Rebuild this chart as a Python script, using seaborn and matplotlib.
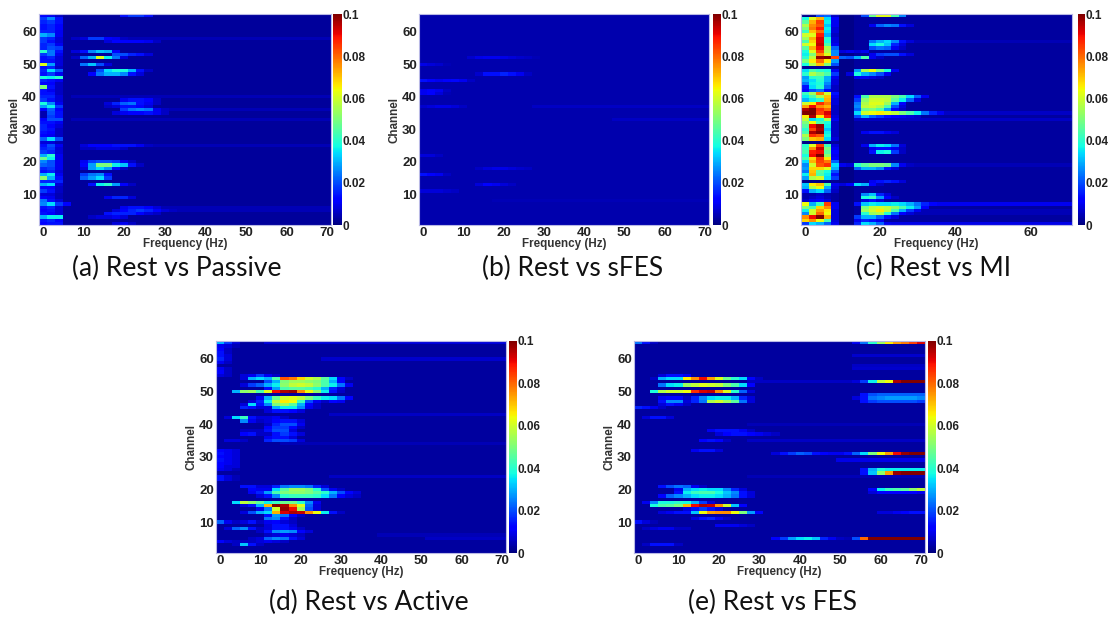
import numpy as np
import pandas as pd
import matplotlib.pyplot as plt
import seaborn as sns

plt.rcParams['font.family'] = ['Liberation Sans', 'DejaVu Sans']

# frequency bins are 2 Hz wide, values below are in units of 0.001
freqs = list(range(0, 72, 2))
channels = list(range(65, 0, -1))
cbar_ticks = [0, 0.02, 0.04, 0.06, 0.08, 0.1]
cbar_labels = ['0', '0.02', '0.04', '0.06', '0.08', '0.1']
ticks_full = [0, 10, 20, 30, 40, 50, 60, 70]
ticks_c = [0, 20, 40, 60]

# each entry: (channel, first frequency bin, values)
cells_a = [
    (65, 0, [12, 10, 6]), (64, 0, [18, 26, 14]), (63, 0, [16, 18, 14]), (62, 0, [14, 16, 12]),
    (61, 0, [14, 16, 12]), (60, 0, [16, 16, 10]), (59, 0, [30, 26, 10]), (58, 0, [18, 16, 8]),
    (57, 0, [18, 14, 8]), (56, 0, [16, 18, 10]), (55, 0, [16, 20, 18]), (54, 0, [40, 24, 14]),
    (53, 0, [18, 24, 10]), (52, 0, [14, 16, 8]), (51, 0, [14, 14, 8]), (50, 0, [62, 28, 8]),
    (49, 0, [14, 16, 6]), (48, 0, [16, 34, 22]), (47, 0, [14, 18, 10]), (46, 0, [38, 36, 40]),
    (45, 0, [16, 14, 10]), (44, 0, [12, 12, 6]), (43, 0, [50, 14, 6]), (42, 0, [14, 10, 6]),
    (41, 0, [14, 14, 6]), (40, 0, [16, 16, 8]), (39, 0, [18, 14, 8]), (38, 0, [38, 26, 10]),
    (37, 0, [28, 36, 18]), (36, 0, [12, 22, 12]), (35, 0, [4, 20, 14]), (34, 0, [4, 18, 14]),
    (33, 0, [12, 20, 20]), (32, 0, [14, 14, 10]), (31, 0, [16, 12, 8]), (30, 0, [16, 14, 6]),
    (29, 0, [14, 12, 6]), (28, 0, [12, 10, 6]), (27, 0, [22, 34, 20]), (26, 0, [8, 8, 5]),
    (25, 0, [14, 20, 10]), (24, 0, [16, 18, 8]), (23, 0, [18, 16, 8]), (22, 0, [30, 40, 10]),
    (21, 0, [48, 36, 10]), (20, 0, [26, 20, 10]), (19, 0, [22, 20, 10]), (18, 0, [16, 18, 10]),
    (17, 0, [14, 16, 8]), (16, 0, [30, 36, 10]), (15, 0, [52, 30, 14]), (14, 0, [16, 16, 16]),
    (13, 0, [30, 34, 8]), (12, 0, [12, 12, 6]), (11, 0, [18, 14, 6]), (10, 0, [8, 8, 5]),
    (9, 0, [12, 10, 5]), (8, 0, [24, 14, 8]), (7, 0, [26, 34, 18, 12]), (6, 0, [14, 16, 8]),
    (5, 0, [12, 14, 8]), (4, 0, [14, 12, 8]), (3, 0, [30, 36, 36]), (2, 0, [14, 16, 12]),
    (1, 0, [12, 14, 14]),
    (65, 10, [14, 18, 18, 14]),
    (58, 4, [6, 8, 18, 18, 12, 10, 6]),
    (57, 8, [8, 12, 12, 12, 12, 10, 6]),
    (54, 4, [8, 14, 26, 32, 30, 12]),
    (53, 9, [20, 20, 16, 14, 8]),
    (52, 4, [6, 22, 30, 62, 36, 24, 8]),
    (50, 5, [24, 32, 20, 8]),
    (48, 7, [20, 34, 38, 38, 30, 14, 6]),
    (47, 6, [12, 24, 30, 30, 26, 14, 8]),
    (39, 10, [10, 14, 14, 12, 6]),
    (38, 8, [8, 16, 22, 24, 14, 10, 6]),
    (37, 8, [6, 8, 14, 14, 12, 8]),
    (36, 10, [18, 24, 26, 24, 10, 6]),
    (35, 9, [8, 10, 12, 12, 14, 10, 6]),
    (25, 5, [8, 12, 12, 12, 14, 14, 14, 10, 6]),
    (24, 5, [6, 6, 8, 8, 8, 6]),
    (20, 5, [10, 18, 20, 20, 18, 10, 6]),
    (19, 5, [12, 28, 50, 50, 36, 32, 14, 6]),
    (18, 5, [8, 28, 34, 28, 14, 6]),
    (16, 5, [18, 24, 26, 14]),
    (15, 5, [22, 28, 34, 18]),
    (13, 6, [14, 36, 40, 28, 12, 6]),
    (9, 8, [10, 16, 16, 8]),
    (6, 10, [10, 14, 14, 12, 8]),
    (5, 9, [8, 12, 16, 18, 16, 12, 8, 6]),
    (4, 8, [14, 16, 16, 16, 12, 8, 6]),
    (3, 6, [6, 8, 8, 10, 8]),
    (1, 9, [8, 10, 6]),
]
stripes_a = [(40, 4, 5), (36, 16, 5), (33, 4, 5), (25, 14, 5), (6, 14, 5), (5, 14, 5), (58, 11, 5)]

cells_b = [
    (52, 6, [7, 9, 10, 10, 9, 8, 7, 6, 5]),
    (47, 7, [7, 14, 14, 16, 14, 10, 6]),
    (45, 0, [14, 12, 10, 12, 13, 10, 6]),
    (42, 0, [10, 12, 10, 6]),
    (41, 0, [10, 12, 8, 5]),
    (37, 0, [7, 8, 9, 9, 8, 6]),
    (50, 0, [9, 8, 7, 5]),
    (16, 0, [14, 12, 10, 6]),
    (22, 0, [8, 8, 6]),
    (11, 0, [8, 8, 8, 7, 6]),
    (18, 7, [6, 8, 9, 9, 8, 7, 6]),
    (13, 7, [8, 12, 10, 8, 6]),
]
stripes_b = [(37, 14, 6), (33, 24, 6), (8, 9, 5)]

cells_c = [
    (65, 0, [1, 1, 20, 22, 6]), (64, 0, [38, 62, 72, 34, 12]), (63, 0, [46, 72, 84, 36, 10]),
    (62, 0, [56, 76, 82, 32, 10]), (61, 0, [50, 78, 88, 36, 8]), (60, 0, [42, 70, 80, 34, 8]),
    (59, 0, [60, 62, 88, 30, 6]), (58, 0, [54, 72, 92, 40, 8]), (57, 0, [44, 68, 92, 38, 8]),
    (56, 0, [60, 64, 94, 44, 10]), (55, 0, [46, 72, 90, 56, 22]), (54, 0, [38, 62, 84, 56, 26]),
    (53, 0, [36, 50, 76, 62, 26]), (52, 0, [40, 58, 98, 100, 84]), (51, 0, [50, 66, 80, 66, 28]),
    (50, 0, [38, 56, 70, 50, 20]), (49, 0, [2, 2, 2, 2, 3]), (48, 0, [34, 44, 40, 38, 10]),
    (47, 0, [40, 56, 50, 44, 18]), (46, 0, [28, 40, 42, 30, 10]), (45, 0, [30, 34, 40, 30, 8]),
    (44, 0, [24, 36, 38, 26, 8]), (43, 0, [14, 34, 40, 22, 6]), (42, 0, [12, 20, 24, 12, 6]),
    (41, 0, [42, 54, 78, 60, 14]), (40, 0, [36, 44, 56, 70, 10]), (39, 0, [30, 36, 40, 72, 8]),
    (38, 0, [60, 66, 86, 78, 8]), (37, 0, [74, 90, 76, 72, 6]), (36, 0, [96, 100, 86, 80, 6]),
    (35, 0, [100, 100, 84, 92, 6]), (34, 0, [66, 96, 66, 88, 8]), (33, 0, [58, 34, 38, 56, 10]),
    (32, 0, [50, 64, 44, 38, 6]), (31, 0, [46, 90, 98, 36, 6]), (30, 0, [40, 84, 96, 32, 6]),
    (29, 0, [44, 96, 100, 36, 6]), (28, 0, [56, 86, 82, 38, 6]), (27, 0, [50, 70, 72, 34, 8]),
    (26, 0, [1, 1, 1, 1, 3]), (25, 0, [40, 62, 84, 42, 8]), (24, 0, [42, 76, 94, 50, 10]),
    (23, 0, [44, 88, 90, 46, 12]), (22, 0, [38, 90, 100, 52, 10]), (21, 0, [44, 68, 86, 66, 12]),
    (20, 0, [34, 72, 84, 78, 22]), (19, 0, [26, 60, 82, 86, 34]), (18, 0, [28, 68, 68, 62, 30]),
    (17, 0, [24, 70, 46, 38, 20]), (16, 0, [36, 72, 44, 36, 14]), (15, 0, [28, 56, 60, 34, 18]),
    (14, 0, [1, 1, 1, 1, 2]), (13, 0, [32, 66, 70, 44, 10]), (12, 0, [30, 56, 64, 30, 8]),
    (11, 0, [14, 30, 34, 22, 6]), (10, 0, [4, 4, 6, 4, 3]), (9, 0, [4, 6, 8, 5, 3]),
    (8, 0, [6, 10, 12, 8, 3]), (7, 0, [64, 30, 42, 84, 10]), (6, 0, [50, 44, 68, 76, 10]),
    (5, 0, [36, 60, 74, 66, 8]), (4, 0, [26, 60, 80, 64, 8]), (3, 0, [76, 90, 100, 72, 8]),
    (2, 0, [68, 76, 64, 44, 8]), (1, 0, [18, 34, 30, 22, 10]),
    (65, 8, [20, 48, 62, 62, 44, 26]),
    (62, 9, [10, 22, 26, 24, 14, 8]),
    (57, 9, [24, 30, 34, 26, 14, 8]),
    (56, 9, [34, 38, 32, 16, 8]),
    (55, 9, [20, 24, 22, 10, 6]),
    (54, 5, [8, 10, 8, 10]),
    (53, 9, [10, 18, 20, 20, 14, 8]),
    (52, 5, [22, 20, 30, 44, 10, 6]),
    (48, 7, [28, 56, 64, 50, 38, 10]),
    (47, 6, [8, 38, 30, 26, 20, 10]),
    (46, 7, [10, 10, 8, 6]),
    (40, 7, [14, 44, 56, 56, 56, 50, 44, 34, 22, 10]),
    (39, 7, [18, 52, 60, 60, 58, 46, 36, 22, 8]),
    (38, 7, [24, 56, 62, 62, 54, 30, 12]),
    (37, 7, [26, 58, 60, 56, 44, 20, 8]),
    (36, 7, [22, 48, 50, 44, 28, 12, 6]),
    (35, 7, [34, 60, 64, 66, 62, 58, 50, 44, 36, 24, 16, 10]),
    (34, 7, [20, 30, 22, 18, 14, 12, 10, 8, 6]),
    (29, 8, [10, 14, 14, 10, 8]),
    (25, 8, [10, 30, 36, 34, 24, 8]),
    (24, 9, [10, 14, 14, 10, 6]),
    (23, 9, [14, 36, 38, 18, 6]),
    (19, 5, [10, 8, 40, 46, 50, 50, 48, 26, 10, 6]),
    (18, 7, [22, 30, 30, 26, 14, 8]),
    (14, 9, [10, 14, 16, 14, 8]),
    (13, 5, [8, 12, 34, 30, 12, 6]),
    (10, 8, [26, 32, 16, 8]),
    (9, 8, [38, 42, 28, 12, 6]),
    (8, 8, [8, 14, 8]),
    (7, 7, [14, 32, 36, 34, 34, 36, 34, 30, 24, 16, 12]),
    (6, 8, [50, 58, 60, 58, 52, 44, 36, 28, 12]),
    (5, 8, [54, 60, 66, 58, 44, 30, 18, 10]),
    (4, 8, [40, 54, 56, 40, 24, 12, 8]),
    (3, 7, [18, 30, 30, 22, 14, 8]),
    (2, 7, [10, 16, 14, 10]),
    (1, 7, [16, 34, 30, 22, 10]),
]
stripes_c = [(7, 18, 10), (1, 10, 9), (33, 7, 6), (35, 19, 6), (19, 15, 5), (57, 15, 5), (5, 16, 5), (4, 15, 5)]
dark_bins_c = [5, 6]

cells_d = [
    (65, 0, [30, 18, 8]), (64, 0, [10, 8, 5]), (63, 0, [12, 6]), (62, 0, [14, 6]), (61, 0, [14, 8]),
    (60, 0, [16, 8]), (59, 0, [10, 6]), (57, 0, [10, 6]), (56, 0, [12, 6]), (55, 0, [8, 6]),
    (32, 0, [12, 10, 8]), (31, 0, [14, 10, 8]), (30, 0, [12, 10, 8]), (29, 0, [14, 10, 8]),
    (28, 0, [12, 10, 8]), (27, 0, [12, 8, 8]), (26, 0, [10, 8, 5]), (24, 0, [14, 8, 5]), (23, 0, [14, 8, 5]),
    (55, 3, [8, 10, 18, 10, 6]),
    (54, 3, [8, 30, 34, 30, 44, 82, 78, 68, 60, 56, 46, 34, 12, 6]),
    (53, 6, [20, 30, 50, 54, 54, 52, 50, 44, 30, 12]),
    (52, 3, [8, 18, 22, 30, 36, 52, 58, 60, 58, 52, 44, 36, 24, 10]),
    (51, 6, [14, 28, 44, 46, 46, 44, 40, 30, 16, 8]),
    (50, 2, [30, 52, 54, 44, 62, 90, 96, 98, 76, 64, 52, 36, 14, 6]),
    (48, 5, [10, 30, 48, 60, 62, 58, 50, 42, 36, 34, 24, 12]),
    (47, 4, [8, 16, 36, 58, 66, 64, 42, 20, 10, 6, 12, 10]),
    (46, 3, [8, 34, 14, 26, 50, 54, 46, 30, 12, 6]),
    (45, 3, [16, 14, 8, 8, 30, 36, 36, 26, 10, 6]),
    (44, 6, [8, 14, 14, 12, 8]),
    (42, 1, [8, 34, 42, 14, 8, 8, 10, 6]),
    (41, 3, [26, 10, 6, 8, 12, 14, 14, 8]),
    (40, 6, [6, 16, 20, 20, 10]),
    (39, 6, [12, 18, 18, 12, 6]),
    (38, 3, [6, 6, 6, 14, 20, 20, 8]),
    (37, 3, [12, 14, 6, 6, 14, 18, 14, 8]),
    (36, 6, [10, 14, 14, 8]),
    (35, 1, [8, 8, 6]),
    (35, 6, [16, 20, 20, 18, 8]),
    (21, 3, [14, 14, 8, 8, 16, 24, 26, 26, 24, 16, 8]),
    (20, 4, [12, 10, 10, 34, 46, 54, 54, 50, 40, 20, 10, 6]),
    (19, 4, [10, 16, 28, 44, 50, 52, 52, 50, 46, 40, 30, 20, 12, 8]),
    (18, 5, [8, 14, 26, 40, 42, 42, 42, 40, 34, 24, 12, 8, 6]),
    (16, 2, [34, 58, 52, 46, 36, 42, 48, 48, 40, 26, 10]),
    (15, 3, [8, 14, 30, 72, 100, 96, 76, 62, 22, 8]),
    (14, 5, [10, 24, 60, 98, 90, 54, 20, 8]),
    (13, 3, [8, 20, 30, 34, 72, 92, 96, 94, 76, 64, 36, 14, 6]),
    (12, 6, [14, 28, 24, 12, 6]),
    (11, 6, [24, 26, 14, 6]),
    (10, 0, [22, 10, 6, 8, 14, 6, 10, 12, 8, 6]),
    (9, 6, [8, 14, 14, 8]),
    (8, 1, [8, 22, 26, 14, 6, 8, 14, 14, 10, 6]),
    (7, 5, [6, 14, 26, 28, 26, 12, 8]),
    (6, 6, [6, 8, 10, 8, 6]),
    (5, 4, [6, 8, 22, 26, 24, 14, 8]),
    (4, 0, [12, 8, 6, 6, 6, 8, 10, 8, 6]),
    (3, 2, [6, 32, 14, 6]),
]
stripes_d = [(65, 6, 8), (60, 13, 7), (43, 14, 6), (24, 14, 6), (34, 8, 5), (5, 26, 6), (6, 20, 5)]

cells_e = [
    (55, 3, [8, 14, 14, 10]),
    (54, 2, [6, 30, 34, 34, 66, 76, 90, 74, 62, 48, 40, 34, 12, 6]),
    (52, 3, [24, 34, 36, 54, 58, 62, 60, 58, 50, 44, 34, 12]),
    (50, 2, [38, 56, 60, 60, 64, 86, 92, 94, 76, 62, 40, 22, 8]),
    (48, 3, [10, 12, 12, 6, 16, 26, 34, 36, 36, 30, 16, 8]),
    (47, 3, [14, 26, 26, 8, 16, 24, 56, 60, 54, 46, 24, 8]),
    (46, 3, [8, 14, 10, 6]),
    (45, 0, [16, 14, 10, 6]),
    (42, 1, [8, 14, 14, 8]),
    (38, 9, [10, 14, 14, 14, 10, 6]),
    (37, 10, [8, 12, 14, 14, 12, 10, 8, 6]),
    (35, 8, [12, 14, 12, 6]),
    (32, 7, [10, 14, 14, 8]),
    (21, 3, [14, 20, 24, 22, 10, 6]),
    (20, 5, [10, 30, 34, 36, 34, 34, 26, 16, 8]),
    (19, 5, [14, 36, 42, 44, 44, 38, 32, 26, 14, 8]),
    (18, 3, [12, 22, 26, 30, 34, 36, 36, 34, 30, 24, 14, 8]),
    (16, 1, [10, 26, 38, 38, 40, 38, 30, 18, 8]),
    (15, 2, [38, 44, 46, 50, 72, 90, 96, 94, 76, 60, 32, 12]),
    (14, 6, [8, 14, 18, 14, 8]),
    (13, 3, [8, 10, 14, 14, 32, 64, 74, 76, 76, 64, 50, 28, 12]),
    (11, 7, [8, 14, 16, 10, 6]),
    (10, 0, [14, 8, 5]),
    (9, 10, [10, 10, 10, 8, 6]),
    (8, 1, [6, 8, 10, 10, 6, 6]),
    (3, 1, [6, 14, 14, 14, 6]),
    (65, 0, [24, 14, 6]),
    (65, 27, [10, 24, 40, 54, 66, 74, 78, 84, 92]),
    (53, 27, [8, 18, 36, 58, 64, 96, 100, 100, 100]),
    (49, 28, [14, 20, 22, 22, 22, 22, 22, 22]),
    (48, 27, [8, 14, 24, 26, 28, 28, 28, 28, 26]),
    (47, 28, [14, 18, 20, 20, 20, 20, 20, 18]),
    (31, 17, [8, 14, 18, 22, 20, 14, 12, 10, 10, 14, 22, 34, 50, 64, 74, 90, 98, 100, 100]),
    (26, 28, [14, 30, 38, 36, 36, 36, 36, 36]),
    (25, 28, [14, 32, 52, 74, 98, 100, 100, 100]),
    (20, 29, [12, 36, 42, 44, 46, 52, 58]),
    (19, 29, [8, 12, 12, 12, 12, 12, 10]),
    (13, 30, [8, 8, 10, 12, 14, 14]),
    (5, 17, [12, 18, 28, 34, 36, 32, 16, 10, 6, 5, 20, 80, 100, 100, 100, 100, 100, 100, 100]),
]
stripes_e = [(29, 25, 9), (53, 14, 6), (57, 27, 7), (58, 27, 6), (35, 14, 6), (40, 14, 5), (61, 27, 7), (24, 14, 5)]

captions = ['(a) Rest vs Passive', '(b) Rest vs sFES', '(c) Rest vs MI', '(d) Rest vs Active', '(e) Rest vs FES']


def build_matrix(base, cells, stripes, dark_bins=()):
    m = np.full((len(channels), len(freqs)), float(base))
    m[:, list(dark_bins)] = 1
    for ch, first, level in stripes:
        m[65 - ch, first:] = np.maximum(m[65 - ch, first:], level)
    for ch, first, values in cells:
        m[65 - ch, first:first + len(values)] = values
    return pd.DataFrame(m / 1000, index=channels, columns=freqs)


W, H = 1114, 621


def px_axes(fig, x0, x1, y0, y1):
    return fig.add_axes([x0 / W, 1 - y1 / H, (x1 - x0) / W, (y1 - y0) / H])


def draw_panel(fig, df, box, cbar_box, xticks, caption, cap_xy):
    ax = px_axes(fig, box[0], box[1], box[2], box[3])
    cax = px_axes(fig, cbar_box[0], cbar_box[1], box[2], box[3])
    sns.heatmap(df, ax=ax, cbar_ax=cax, cmap='jet', vmin=0, vmax=0.1,
                xticklabels=False, yticklabels=False)
    for s in ax.spines.values():
        s.set_visible(True)
        s.set_color('#b9b9e6')
        s.set_linewidth(0.8)
    ax.set_xticks([f / 2 + 0.5 for f in xticks])
    ax.set_xticklabels(xticks, fontsize=9.5, fontweight='bold', color='#222222')
    yt = [60, 50, 40, 30, 20, 10]
    ax.set_yticks([65 - c + 0.5 for c in yt])
    ax.set_yticklabels(yt, fontsize=9.5, fontweight='bold', color='#222222', rotation=0)
    ax.tick_params(length=0, pad=1.5)
    ax.set_xlabel('Frequency (Hz)', fontsize=8.4, fontweight='bold', color='#333333', labelpad=-1)
    ax.set_ylabel('Channel', fontsize=8.4, fontweight='bold', color='#333333', labelpad=1)
    cax.set_yticks(cbar_ticks)
    cax.set_yticklabels(cbar_labels, fontsize=8.5, fontweight='bold', color='#222222')
    cax.tick_params(length=0, pad=0.5)
    fig.text(cap_xy[0] / W, 1 - cap_xy[1] / H, caption, fontsize=19, family='Lato',
             ha='center', va='center', color='#111111')


fig = plt.figure(figsize=(W / 100, H / 100), dpi=100)

draw_panel(fig, build_matrix(2.5, cells_a, stripes_a), (39, 331, 14, 225), (333, 342), ticks_full, captions[0], (177, 268))
draw_panel(fig, build_matrix(4, cells_b, stripes_b), (419, 709, 14, 225), (713, 721), ticks_full, captions[1], (573, 268))
draw_panel(fig, build_matrix(3, cells_c, stripes_c, dark_bins_c), (801, 1072, 14, 225), (1078, 1085), ticks_c, captions[2], (934, 268))
draw_panel(fig, build_matrix(3, cells_d, stripes_d), (216, 506, 341, 553), (509, 517), ticks_full, captions[3], (369, 602))
draw_panel(fig, build_matrix(3, cells_e, stripes_e), (634, 925, 341, 553), (928, 936), ticks_full, captions[4], (773, 602))

fig.savefig('out.png', dpi=100)
